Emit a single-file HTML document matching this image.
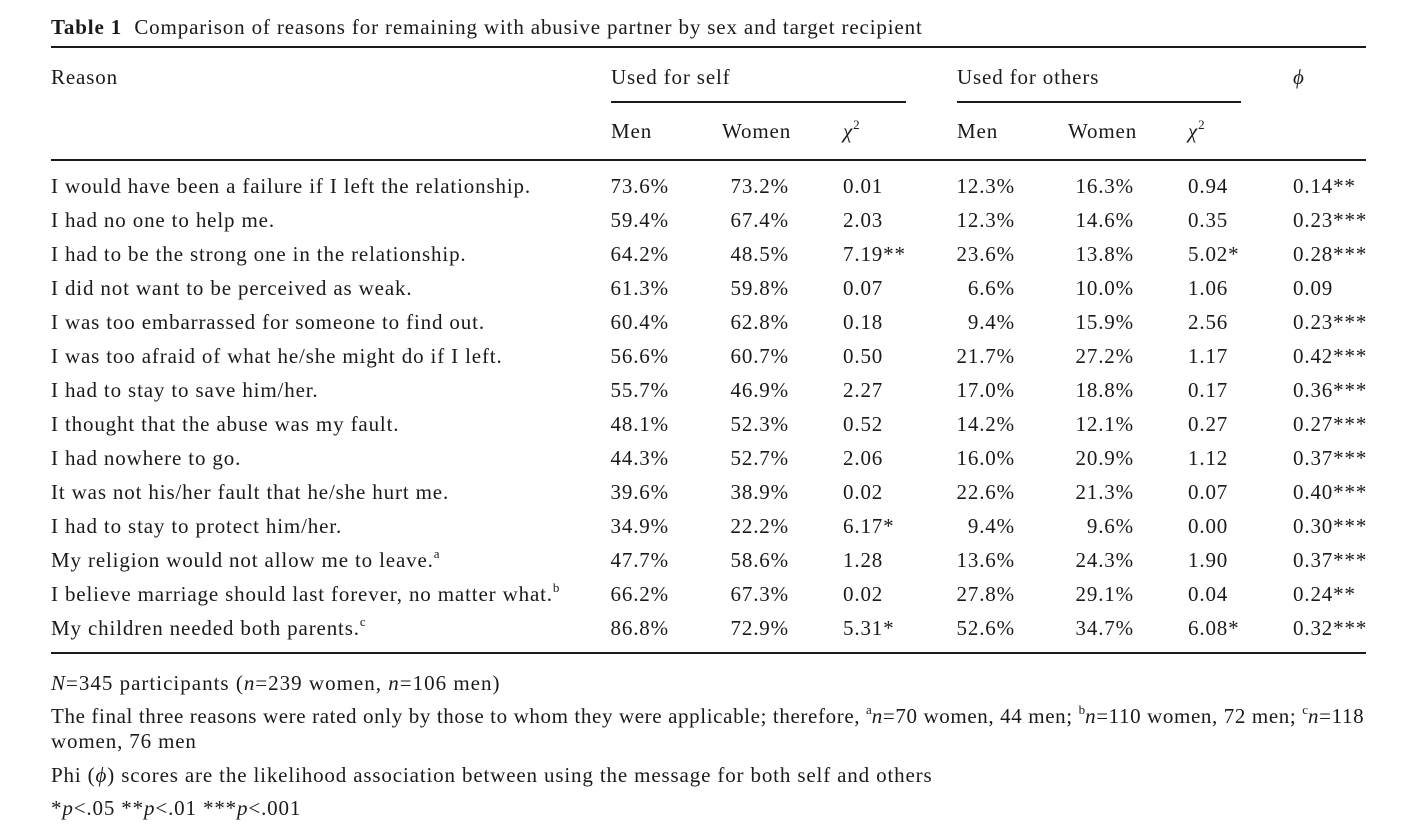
<!DOCTYPE html>
<html><head><meta charset="utf-8"><style>
html,body{margin:0;padding:0;background:#fff;}
body{width:1418px;height:838px;position:relative;overflow:hidden;font-family:"Liberation Serif",serif;font-size:21px;letter-spacing:0.85px;color:#1a1a1a;}
.t{position:absolute;white-space:nowrap;line-height:24px;}
.r{text-align:right;}
.ln{position:absolute;background:#1a1a1a;}
i{font-style:italic;}
sup{font-size:13px;vertical-align:top;position:relative;top:-6px;letter-spacing:0;}
</style></head><body>
<div class="t" style="left:51px;top:15px;"><b>Table 1</b>&nbsp; Comparison of reasons for remaining with abusive partner by sex and target recipient</div>
<div class="ln" style="left:51px;top:46px;width:1315px;height:2px;"></div>
<div class="t" style="left:51px;top:65px;">Reason</div>
<div class="t" style="left:611px;top:65px;">Used for self</div>
<div class="t" style="left:957px;top:65px;">Used for others</div>
<div class="t" style="left:1293px;top:65px;"><i>ϕ</i></div>
<div class="ln" style="left:611px;top:101px;width:295px;height:2px;"></div>
<div class="ln" style="left:957px;top:101px;width:284px;height:2px;"></div>
<div class="t" style="left:611px;top:119px;">Men</div>
<div class="t" style="left:722px;top:119px;">Women</div>
<div class="t" style="left:843px;top:119px;"><i>χ</i><sup>2</sup></div>
<div class="t" style="left:957px;top:119px;">Men</div>
<div class="t" style="left:1068px;top:119px;">Women</div>
<div class="t" style="left:1188px;top:119px;"><i>χ</i><sup>2</sup></div>
<div class="ln" style="left:51px;top:159px;width:1315px;height:2px;"></div>
<div id="rows"></div>
<div class="ln" style="left:51px;top:652px;width:1315px;height:2px;"></div>
<div class="t" style="left:51px;top:671px;letter-spacing:1px;"><i>N</i>=345 participants (<i>n</i>=239 women, <i>n</i>=106 men)</div>
<div class="t" style="left:51px;top:704px;letter-spacing:0.62px;">The final three reasons were rated only by those to whom they were applicable; therefore, <sup>a</sup><i>n</i>=70 women, 44 men; <sup>b</sup><i>n</i>=110 women, 72 men; <sup>c</sup><i>n</i>=118</div>
<div class="t" style="left:51px;top:729px;">women, 76 men</div>
<div class="t" style="left:51px;top:763px;">Phi (<i>ϕ</i>) scores are the likelihood association between using the message for both self and others</div>
<div class="t" style="left:51px;top:796px;">*<i>p</i>&lt;.05 **<i>p</i>&lt;.01 ***<i>p</i>&lt;.001</div>
<script>
var d=[
["I would have been a failure if I left the relationship.","73.6%","73.2%","0.01","12.3%","16.3%","0.94","0.14**"],
["I had no one to help me.","59.4%","67.4%","2.03","12.3%","14.6%","0.35","0.23***"],
["I had to be the strong one in the relationship.","64.2%","48.5%","7.19**","23.6%","13.8%","5.02*","0.28***"],
["I did not want to be perceived as weak.","61.3%","59.8%","0.07","6.6%","10.0%","1.06","0.09"],
["I was too embarrassed for someone to find out.","60.4%","62.8%","0.18","9.4%","15.9%","2.56","0.23***"],
["I was too afraid of what he/she might do if I left.","56.6%","60.7%","0.50","21.7%","27.2%","1.17","0.42***"],
["I had to stay to save him/her.","55.7%","46.9%","2.27","17.0%","18.8%","0.17","0.36***"],
["I thought that the abuse was my fault.","48.1%","52.3%","0.52","14.2%","12.1%","0.27","0.27***"],
["I had nowhere to go.","44.3%","52.7%","2.06","16.0%","20.9%","1.12","0.37***"],
["It was not his/her fault that he/she hurt me.","39.6%","38.9%","0.02","22.6%","21.3%","0.07","0.40***"],
["I had to stay to protect him/her.","34.9%","22.2%","6.17*","9.4%","9.6%","0.00","0.30***"],
["My religion would not allow me to leave.<sup>a</sup>","47.7%","58.6%","1.28","13.6%","24.3%","1.90","0.37***"],
["I believe marriage should last forever, no matter what.<sup>b</sup>","66.2%","67.3%","0.02","27.8%","29.1%","0.04","0.24**"],
["My children needed both parents.<sup>c</sup>","86.8%","72.9%","5.31*","52.6%","34.7%","6.08*","0.32***"]];
var h="";
d.forEach(function(r,i){var y=174+i*34;
h+='<div class="t" style="left:51px;top:'+y+'px">'+r[0]+'</div>';
h+='<div class="t r" style="left:569px;width:100px;top:'+y+'px">'+r[1]+'</div>';
h+='<div class="t r" style="left:689px;width:100px;top:'+y+'px">'+r[2]+'</div>';
h+='<div class="t" style="left:843px;top:'+y+'px">'+r[3]+'</div>';
h+='<div class="t r" style="left:915px;width:100px;top:'+y+'px">'+r[4]+'</div>';
h+='<div class="t r" style="left:1034px;width:100px;top:'+y+'px">'+r[5]+'</div>';
h+='<div class="t" style="left:1188px;top:'+y+'px">'+r[6]+'</div>';
h+='<div class="t" style="left:1293px;top:'+y+'px">'+r[7]+'</div>';});
document.getElementById("rows").innerHTML=h;
</script>
</body></html>
